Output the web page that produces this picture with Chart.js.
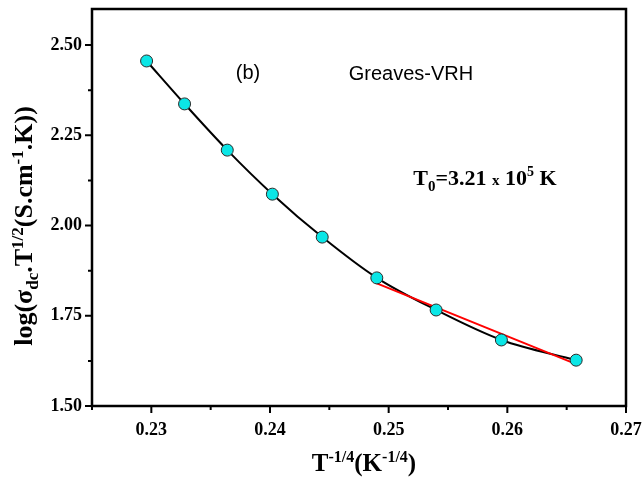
<!DOCTYPE html>
<html>
<head>
<meta charset="utf-8">
<script src="https://cdn.jsdelivr.net/npm/chart.js@4"></script>
<style>
html, body { margin: 0; background: #fff; }
#wrap { width: 642px; height: 479px; }
</style>
</head>
<body>
<div id="wrap"><canvas id="myChart"></canvas></div>
<script>
// data
var xValues = [0.2296, 0.2328, 0.2364, 0.2402, 0.2444, 0.2490, 0.2540, 0.2595, 0.2658];
var yValues = [2.456, 2.337, 2.209, 2.087, 1.968, 1.855, 1.766, 1.683, 1.627];
var fitX = [0.2489, 0.2658];
var fitY = [1.841, 1.616];
var xTicks = [0.23, 0.24, 0.25, 0.26, 0.27];
var yTicks = [1.50, 1.75, 2.00, 2.25, 2.50];

var serif = '"Liberation Serif", "Times New Roman", serif';
var sans = '"Liberation Sans", Arial, sans-serif';

function pts(xs, ys) {
  return xs.map(function (x, i) { return { x: x, y: ys[i] }; });
}

// draws a run of text pieces (for sub/superscripts), centred at x,y
function drawRich(c, parts, x, y) {
  var total = 0;
  parts.forEach(function (p) {
    c.font = (p.bold === false ? '' : 'bold ') + p.size + 'px ' + (p.family || serif);
    p.w = c.measureText(p.t).width;
    total += p.w;
  });
  var cx = x - total / 2;
  c.textBaseline = 'alphabetic';
  c.textAlign = 'left';
  parts.forEach(function (p) {
    c.font = (p.bold === false ? '' : 'bold ') + p.size + 'px ' + (p.family || serif);
    c.fillText(p.t, cx, y + (p.dy || 0));
    cx += p.w;
  });
}

var decor = {
  id: 'decor',
  afterDraw: function (chart) {
    var c = chart.ctx, a = chart.chartArea;
    var xs = chart.scales.x, ys = chart.scales.y;
    c.save();
    c.strokeStyle = '#000';
    c.fillStyle = '#000';
    // frame
    c.lineWidth = 2.5;
    c.strokeRect(a.left, a.top, a.right - a.left, a.bottom - a.top);
    // ticks
    c.lineWidth = 2;
    c.beginPath();
    xs.ticks.forEach(function (t) {
      var px = xs.getPixelForValue(t.value);
      var major = Math.round(t.value * 1000) % 10 === 0;
      c.moveTo(px, a.bottom);
      c.lineTo(px, a.bottom + (major ? 7 : 4));
    });
    ys.ticks.forEach(function (t) {
      if (t.value > 2.55) return;
      var py = ys.getPixelForValue(t.value);
      var major = Math.round(t.value * 1000) % 250 === 0;
      c.moveTo(a.left, py);
      c.lineTo(a.left - (major ? 7 : 4), py);
    });
    c.stroke();

    // x title
    drawRich(c, [
      { t: 'T', size: 25 },
      { t: '-1/4', size: 16, dy: -9 },
      { t: '(K', size: 25 },
      { t: '-1/4', size: 16, dy: -9 },
      { t: ')', size: 25 }
    ], 364, 471);

    // y title
    c.save();
    c.translate(32, 226);
    c.rotate(-Math.PI / 2);
    drawRich(c, [
      { t: 'log(\u03C3', size: 26 },
      { t: 'dc', size: 17, dy: 6 },
      { t: '.T', size: 26 },
      { t: '1/2', size: 17, dy: -9 },
      { t: '(S.cm', size: 26 },
      { t: '-1', size: 17, dy: -9 },
      { t: '.K))', size: 26 }
    ], 0, 0);
    c.restore();

    // annotations
    drawRich(c, [{ t: '(b)', size: 20, bold: false, family: sans }], 248, 79);
    drawRich(c, [{ t: 'Greaves-VRH', size: 20, bold: false, family: sans }], 411, 80);
    drawRich(c, [
      { t: 'T', size: 22 },
      { t: '0', size: 15, dy: 6 },
      { t: '=3.21 ', size: 22 },
      { t: 'x', size: 15 },
      { t: ' 10', size: 22 },
      { t: '5', size: 14, dy: -9 },
      { t: ' K', size: 22 }
    ], 485, 185);
    c.restore();
  }
};

var ctx = document.getElementById('myChart').getContext('2d');
var myChart = new Chart(ctx, {
  type: 'scatter',
  data: {
    datasets: [{
      label: 'data',
      data: pts(xValues, yValues),
      pointRadius: 6,
      pointBackgroundColor: '#0be6e6',
      pointBorderColor: '#2a2a2a',
      pointBorderWidth: 1,
      showLine: false,
      order: 0
    }, {
      label: 'fit',
      data: pts(fitX, fitY),
      showLine: true,
      borderColor: '#ff0000',
      borderWidth: 2,
      pointRadius: 0,
      order: 1
    }, {
      label: 'curve',
      data: pts(xValues, yValues),
      showLine: true,
      borderColor: '#000',
      borderWidth: 2,
      pointRadius: 0,
      cubicInterpolationMode: 'monotone',
      order: 2
    }]
  },
  options: {
    responsive: true,
    maintainAspectRatio: false,
    animation: false,
    layout: { padding: { top: 9, right: 16, left: 0, bottom: 0 } },
    plugins: {
      legend: { display: false },
      tooltip: { enabled: false }
    },
    scales: {
      x: {
        type: 'linear',
        min: 0.225,
        max: 0.27,
        grid: { display: false, drawTicks: false, tickLength: 0 },
        border: { display: false },
        afterFit: function (s) {
          s.height = 73;
          s.paddingLeft = 0;
          s.paddingRight = 0;
        },
        ticks: {
          stepSize: 0.005,
          autoSkip: false,
          maxRotation: 0,
          padding: 14,
          color: '#000',
          font: { family: serif, size: 18, weight: 'bold' },
          callback: function (v) {
            return xTicks.some(function (t) { return Math.abs(t - v) < 1e-6; }) ? v.toFixed(2) : '';
          }
        }
      },
      y: {
        min: 1.5,
        max: 2.6,
        grid: { display: false, drawTicks: false, tickLength: 0 },
        border: { display: false },
        afterFit: function (s) {
          s.width = 92;
          s.paddingTop = 0;
          s.paddingBottom = 0;
        },
        ticks: {
          stepSize: 0.125,
          autoSkip: false,
          padding: 10,
          color: '#000',
          font: { family: serif, size: 18, weight: 'bold' },
          callback: function (v) {
            return yTicks.some(function (t) { return Math.abs(t - v) < 1e-6; }) ? v.toFixed(2) : '';
          }
        }
      }
    }
  },
  plugins: [decor]
});
</script>
</body>
</html>
